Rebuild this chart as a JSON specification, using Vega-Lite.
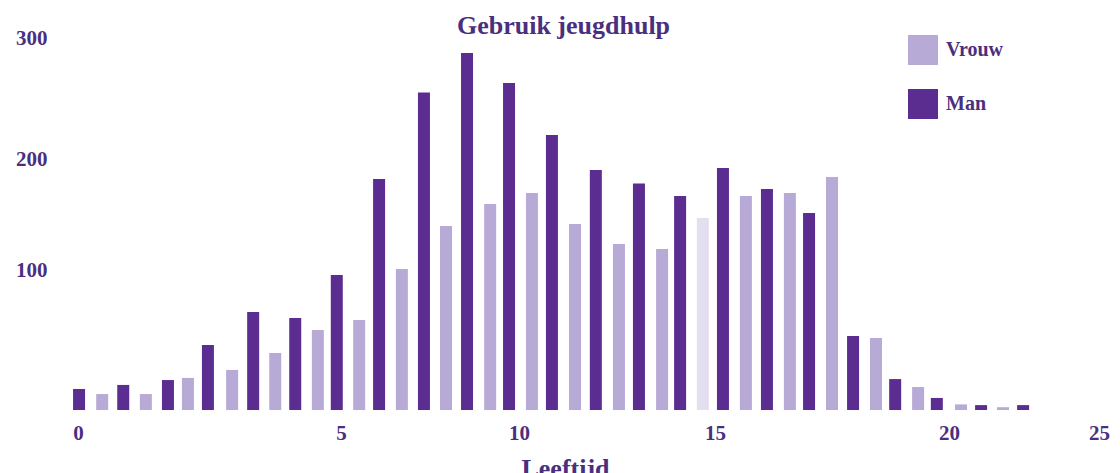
{
  "$schema": "https://vega.github.io/schema/vega-lite/v6.json",
  "width": 1065,
  "height": 380,
  "autosize": "none",
  "padding": {"left": 55, "top": 30, "right": 0, "bottom": 63},
  "background": "white",
  "title": {
    "text": "Gebruik jeugdhulp",
    "font": "Liberation Serif",
    "fontSize": 26,
    "fontWeight": "bold",
    "color": "#4b2f7f",
    "anchor": "middle",
    "dx": -24,
    "baseline": "alphabetic",
    "offset": -33
  },
  "data": {
    "values": [
      {"age": 0.02, "sex": "Man", "count": 15},
      {"age": 0.86, "sex": "Man", "count": 17.9},
      {"age": 1.71, "sex": "Man", "count": 21.4},
      {"age": 2.47, "sex": "Man", "count": 46.4},
      {"age": 3.33, "sex": "Man", "count": 70},
      {"age": 4.13, "sex": "Man", "count": 65.7},
      {"age": 4.92, "sex": "Man", "count": 96.4},
      {"age": 6.07, "sex": "Man", "count": 182},
      {"age": 7.33, "sex": "Man", "count": 255},
      {"age": 8.54, "sex": "Man", "count": 287.6},
      {"age": 9.72, "sex": "Man", "count": 262.8},
      {"age": 10.84, "sex": "Man", "count": 219.8},
      {"age": 11.96, "sex": "Man", "count": 190},
      {"age": 13.06, "sex": "Man", "count": 178},
      {"age": 14.11, "sex": "Man", "count": 166.7},
      {"age": 15.17, "sex": "Man", "count": 191.9},
      {"age": 16.11, "sex": "Man", "count": 173},
      {"age": 17.01, "sex": "Man", "count": 151.4},
      {"age": 17.95, "sex": "Man", "count": 52.9},
      {"age": 18.85, "sex": "Man", "count": 22.1},
      {"age": 19.74, "sex": "Man", "count": 8.6},
      {"age": 21.07, "sex": "Man", "count": 3.5},
      {"age": 22.47, "sex": "Man", "count": 3.5},
      {"age": 0.46, "sex": "Vrouw", "count": 11.4},
      {"age": 1.29, "sex": "Vrouw", "count": 11.4},
      {"age": 2.09, "sex": "Vrouw", "count": 22.9},
      {"age": 2.93, "sex": "Vrouw", "count": 28.6},
      {"age": 3.75, "sex": "Vrouw", "count": 40.7},
      {"age": 4.56, "sex": "Vrouw", "count": 57.1},
      {"age": 5.51, "sex": "Vrouw", "count": 64.3},
      {"age": 6.71, "sex": "Vrouw", "count": 100.9},
      {"age": 7.95, "sex": "Vrouw", "count": 139.6},
      {"age": 9.19, "sex": "Vrouw", "count": 159.5},
      {"age": 10.33, "sex": "Vrouw", "count": 169.4},
      {"age": 11.43, "sex": "Vrouw", "count": 141.4},
      {"age": 12.55, "sex": "Vrouw", "count": 123.4},
      {"age": 13.65, "sex": "Vrouw", "count": 118.9},
      {"age": 14.69, "sex": "Vrouw", "count": 146.8},
      {"age": 15.66, "sex": "Vrouw", "count": 166.7},
      {"age": 16.6, "sex": "Vrouw", "count": 169.4},
      {"age": 17.5, "sex": "Vrouw", "count": 183.8},
      {"age": 18.44, "sex": "Vrouw", "count": 51.4},
      {"age": 19.34, "sex": "Vrouw", "count": 16.4},
      {"age": 20.4, "sex": "Vrouw", "count": 4},
      {"age": 21.8, "sex": "Vrouw", "count": 2}
    ]
  },
  "mark": {"type": "bar", "size": 12},
  "encoding": {
    "x": {
      "field": "age",
      "type": "quantitative",
      "scale": {"domain": [0, 5, 10, 15, 20, 25], "range": [23, 286, 464, 660, 894, 1044], "nice": false, "zero": false, "padding": 0},
      "axis": {
        "values": [0, 5, 10, 15, 20, 25],
        "title": "Leeftijd",
        "titleFont": "Liberation Serif",
        "titleFontSize": 26,
        "titleFontWeight": "bold",
        "titleColor": "#4b2f7f",
        "titleX": 510,
        "titleY": 45,
        "titleBaseline": "top",
        "labelFont": "Liberation Serif",
        "labelFontSize": 21,
        "labelFontWeight": "bold",
        "labelColor": "#4b2f7f",
        "labelPadding": 12,
        "labelFlush": false,
        "labelOverlap": false,
        "ticks": false,
        "domain": false,
        "grid": false
      }
    },
    "y": {
      "field": "count",
      "type": "quantitative",
      "scale": {"domain": [0, 100, 200, 300], "range": [380, 240, 129, 8], "nice": false, "padding": 0},
      "axis": {
        "values": [100, 200, 300],
        "title": null,
        "labelFont": "Liberation Serif",
        "labelFontSize": 21,
        "labelFontWeight": "bold",
        "labelColor": "#4b2f7f",
        "labelPadding": 8,
        "ticks": false,
        "domain": false,
        "grid": false
      }
    },
    "color": {
      "condition": {"test": "datum.sex === 'Vrouw' && datum.age > 14.5 && datum.age < 15", "value": "#e4dff0"},
      "field": "sex",
      "type": "nominal",
      "scale": {"domain": ["Vrouw", "Man"], "range": ["#b8aad6", "#5c2d91"]},
      "legend": {
        "title": null,
        "orient": "none",
        "legendX": 853,
        "legendY": 5,
        "symbolType": "square",
        "symbolSize": 900,
        "symbolStrokeWidth": 0,
        "symbolOpacity": 1,
        "rowPadding": 24,
        "labelOffset": 8,
        "labelFont": "Liberation Serif",
        "labelFontSize": 20,
        "labelFontWeight": "bold",
        "labelColor": "#4b2f7f",
        "padding": 0
      }
    }
  },
  "config": {"view": {"stroke": null}}
}
